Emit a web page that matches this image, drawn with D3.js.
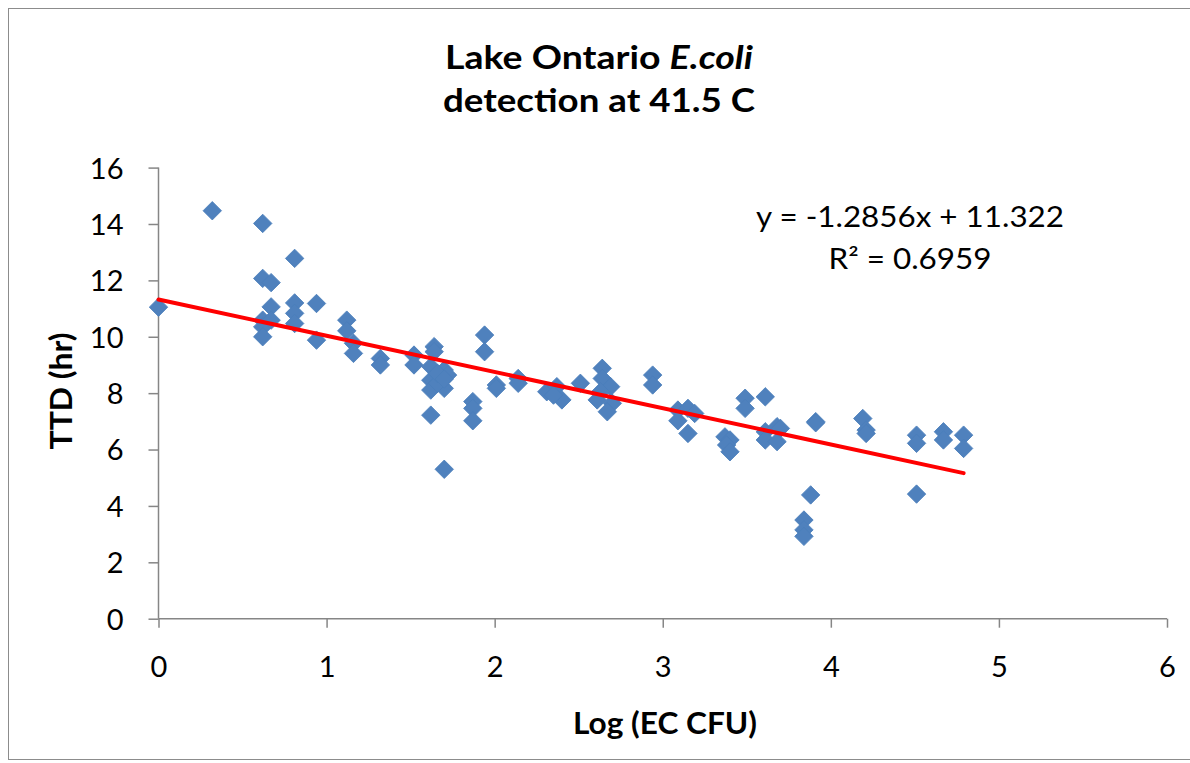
<!DOCTYPE html>
<html>
<head>
<meta charset="utf-8">
<script src="https://cdn.jsdelivr.net/npm/d3@7"></script>
<style>
  html, body { margin: 0; padding: 0; background: #fff; }
  svg { display: block; }
</style>
</head>
<body>
<svg id="chart" width="1190" height="763"></svg>
<script>
// ---- Data ----
const logCFU = [
  0.00, 0.32,
  0.62, 0.62, 0.62, 0.62, 0.62,
  0.67, 0.67, 0.67,
  0.81, 0.81, 0.81, 0.81,
  0.94, 0.94,
  1.12, 1.12,
  1.16, 1.16,
  1.32, 1.32,
  1.52, 1.52,
  1.64, 1.64,
  1.62, 1.70, 1.72, 1.62, 1.62, 1.70, 1.66, 1.62, 1.70, 1.66, 1.70,
  1.87, 1.87, 1.87,
  1.94, 1.94,
  2.01, 2.01,
  2.14, 2.14,
  2.31, 2.37, 2.40, 2.35, 2.51,
  2.64, 2.64, 2.69, 2.63, 2.61, 2.70, 2.67,
  2.94, 2.94,
  3.09, 3.09, 3.15, 3.19, 3.15,
  3.37, 3.40, 3.38, 3.40,
  3.49, 3.49,
  3.61, 3.61, 3.61,
  3.68, 3.68, 3.70,
  3.88, 3.84, 3.84, 3.84,
  3.91, 3.91,
  4.19, 4.21, 4.21,
  4.51, 4.51, 4.51,
  4.67, 4.67,
  4.79, 4.79
];
const ttdHours = [
  11.05, 14.47,
  14.02, 12.07, 10.59, 10.35, 10.00,
  11.92, 11.06, 10.59,
  12.78, 11.20, 10.83, 10.47,
  11.18, 9.88,
  10.59, 10.21,
  9.77, 9.41,
  9.23, 9.00,
  9.35, 9.00,
  9.65, 9.47,
  8.94, 8.82, 8.64, 8.46, 8.11, 8.17, 8.35, 7.22, 5.30, 8.70, 8.50,
  7.70, 7.46, 7.02,
  10.06, 9.47,
  8.29, 8.17,
  8.52, 8.35,
  8.05, 8.23, 7.76, 7.93, 8.35,
  8.88, 8.52, 8.23, 8.05, 7.76, 7.64, 7.34,
  8.64, 8.29,
  7.40, 7.02, 7.46, 7.28, 6.57,
  6.45, 6.34, 6.16, 5.92,
  7.82, 7.46,
  7.87, 6.63, 6.34,
  6.81, 6.28, 6.75,
  4.39, 3.50, 3.15, 2.92,
  6.99, 6.95,
  7.10, 6.69, 6.57,
  6.51, 6.22, 4.42,
  6.63, 6.34,
  6.51, 6.04
];
const xTicks = [0, 1, 2, 3, 4, 5, 6];
const yTicks = [0, 2, 4, 6, 8, 10, 12, 14, 16];
const trendSlope = -1.2856;
const trendIntercept = 11.322;
const equationLines = ["y = -1.2856x + 11.322", "R² = 0.6959"];
const titleLine1 = ["Lake Ontario ", "E.coli"];
const titleLine2 = "detection at 41.5 C";
const xTitle = "Log (EC CFU)";
const yTitle = "TTD (hr)";

// ---- Drawing ----
const svg = d3.select("#chart");
const font = "Lato, 'Open Sans', 'Liberation Sans', sans-serif";
const axisColor = "#868686";

// outer chart border
svg.append("rect")
  .attr("x", 8.5).attr("y", 8.5)
  .attr("width", 1200).attr("height", 751)
  .attr("fill", "#fff").attr("stroke", "#8c8c8c").attr("stroke-width", 1);

const plot = { left: 158.5, right: 1167, top: 167.6, bottom: 618.7 };
const x = d3.scaleLinear().domain([0, 6]).range([plot.left, plot.right]);
const y = d3.scaleLinear().domain([0, 16]).range([plot.bottom, plot.top]);

// axes
const xAxis = d3.axisBottom(x).tickValues(xTicks).tickSize(9).tickFormat(d3.format("d"));
const yAxis = d3.axisLeft(y).tickValues(yTicks).tickSize(10).tickFormat(d3.format("d"));

const gx = svg.append("g").attr("transform", `translate(0,${plot.bottom})`).call(xAxis);
const gy = svg.append("g").attr("transform", `translate(${plot.left},0)`).call(yAxis);
[gx, gy].forEach(g => {
  g.select(".domain").attr("stroke", axisColor).attr("stroke-width", 1.5);
  g.selectAll(".tick line").attr("stroke", axisColor).attr("stroke-width", 1.5);
  g.selectAll(".tick text").attr("fill", "#000")
    .style("font-family", font).style("font-size", "29px");
});
gx.selectAll(".tick text").attr("y", 58).attr("dy", null);
gy.selectAll(".tick text").attr("x", -35).attr("dy", "0.36em");
gx.select(".domain").attr("d", `M${plot.left},0H${plot.right}`);
gy.select(".domain").attr("d", `M0,${plot.bottom}V${plot.top}`);

// points
const pts = logCFU.map((v, i) => ({ x: v, y: ttdHours[i] }));
const diamond = d3.symbol().type(d3.symbolSquare).size(170);
svg.append("g").selectAll("path")
  .data(pts)
  .join("path")
  .attr("d", diamond)
  .attr("transform", d => `translate(${x(d.x)},${y(d.y)}) rotate(45)`)
  .attr("fill", "#4F81BD")
  .attr("stroke", "#4a7ebb")
  .attr("stroke-width", 0.8);

// trend line
const xMin = d3.min(logCFU), xMax = d3.max(logCFU);
svg.append("line")
  .attr("x1", x(xMin)).attr("y1", y(trendIntercept + trendSlope * xMin))
  .attr("x2", x(xMax)).attr("y2", y(trendIntercept + trendSlope * xMax))
  .attr("stroke", "#FF0000").attr("stroke-width", 4).attr("stroke-linecap", "round");

// equation
const eqWidths = [308, 163];
svg.append("g").selectAll("text")
  .data(equationLines)
  .join("text")
  .attr("x", 910).attr("y", (d, i) => 226.5 + i * 42)
  .attr("text-anchor", "middle")
  .attr("textLength", (d, i) => eqWidths[i])
  .attr("lengthAdjust", "spacingAndGlyphs")
  .style("font-family", font).style("font-size", "28px")
  .text(d => d);

// title
const t1 = svg.append("text").attr("x", 599).attr("y", 68.5)
  .attr("text-anchor", "middle")
  .attr("textLength", 308).attr("lengthAdjust", "spacingAndGlyphs")
  .style("font-family", font).style("font-size", "32px").style("font-weight", "bold");
t1.append("tspan").text(titleLine1[0]);
t1.append("tspan").style("font-style", "italic").text(titleLine1[1]);
svg.append("text").attr("x", 599).attr("y", 111.5)
  .attr("text-anchor", "middle")
  .attr("textLength", 312).attr("lengthAdjust", "spacingAndGlyphs")
  .style("font-family", font).style("font-size", "32px").style("font-weight", "bold")
  .text(titleLine2);

// axis titles
svg.append("text").attr("x", 665).attr("y", 734)
  .attr("text-anchor", "middle")
  .attr("textLength", 184).attr("lengthAdjust", "spacingAndGlyphs")
  .style("font-family", font).style("font-size", "30px").style("font-weight", "bold")
  .text(xTitle);
svg.append("text")
  .attr("transform", `translate(72,391) rotate(-90)`)
  .attr("text-anchor", "middle")
  .attr("textLength", 117).attr("lengthAdjust", "spacingAndGlyphs")
  .style("font-family", font).style("font-size", "30px").style("font-weight", "bold")
  .text(yTitle);
</script>
</body>
</html>
